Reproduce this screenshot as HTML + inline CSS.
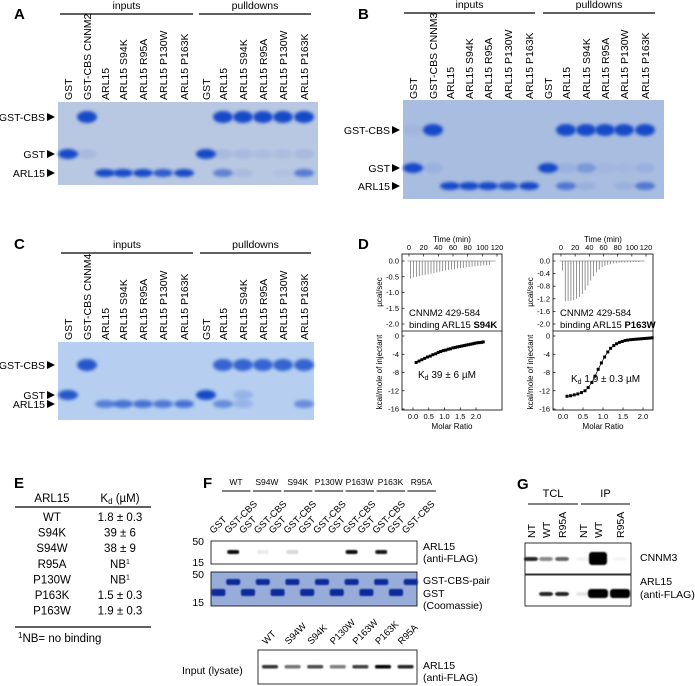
<!DOCTYPE html>
<html><head><meta charset="utf-8">
<style>
html,body{margin:0;padding:0;background:#fff;}
svg{display:block;font-family:"Liberation Sans",Arial,sans-serif;}
</style></head>
<body>
<svg id="fig" width="695" height="686" viewBox="0 0 695 686" xmlns="http://www.w3.org/2000/svg">
<defs>
<filter id="blur" x="-50%" y="-50%" width="200%" height="200%"><feGaussianBlur stdDeviation="1.6"/></filter>
<filter id="blur2" x="-50%" y="-50%" width="200%" height="200%"><feGaussianBlur stdDeviation="0.9"/></filter>
</defs>
<g font-weight="bold" font-size="15" fill="#000">
<text x="14" y="19">A</text>
<text x="358" y="19">B</text>
<text x="14" y="249">C</text>
<text x="358" y="249">D</text>
<text x="14" y="488">E</text>
<text x="203" y="488">F</text>
<text x="517" y="489">G</text>
</g>
<g id="layer"></g>

<g font-size="11.5" text-anchor="middle">
<text x="52" y="502">ARL15</text>
<text x="120" y="502">K<tspan font-size="8" dy="2">d</tspan><tspan dy="-2"> (µM)</tspan></text>
<line x1="15" y1="507" x2="151" y2="507" stroke="#000" stroke-width="1.2"/>
<line x1="15" y1="627" x2="151" y2="627" stroke="#000" stroke-width="1.2"/>
<text x="18" y="642" text-anchor="start"><tspan font-size="8" dy="-4">1</tspan><tspan dy="4">NB= no binding</tspan></text>
<g id="tableRows"></g>
</g>

<g font-size="10.5">
<text x="423" y="550">ARL15</text>
<text x="423" y="562">(anti-FLAG)</text>
<text x="423" y="584">GST-CBS-pair</text>
<text x="423" y="597">GST</text>
<text x="423" y="609">(Coomassie)</text>
<text x="182" y="674">Input (lysate)</text>
<text x="423" y="669">ARL15</text>
<text x="423" y="681">(anti-FLAG)</text>
<text x="640" y="561">CNNM3</text>
<text x="640" y="585">ARL15</text>
<text x="640" y="598">(anti-FLAG)</text>
</g>
<g font-size="10.5" text-anchor="end">
<text x="204" y="545">50</text>
<text x="204" y="566">15</text>
<text x="204" y="578">50</text>
<text x="204" y="606">15</text>
</g>
</svg>
<script>
const NS='http://www.w3.org/2000/svg';
const layer=document.getElementById('layer');
function mk(tag,attrs,parent){const e=document.createElementNS(NS,tag);for(const k in attrs)e.setAttribute(k,attrs[k]);(parent||layer).appendChild(e);return e;}
function txt(x,y,s,attrs,parent){const e=mk('text',Object.assign({x:x,y:y},attrs||{}),parent);e.textContent=s;return e;}

const gelLanes=['GST','GST-CBS CNNM','ARL15','ARL15 S94K','ARL15 R95A','ARL15 P130W','ARL15 P163K','GST','ARL15','ARL15 S94K','ARL15 R95A','ARL15 P130W','ARL15 P163K'];
const gelA=[[0,1,0],[1,0.1,0],[0,0,1],[0,0,1],[0,0,1],[0,0,0.85],[0,0,1],[0,1,0],[1,0.1,0.55],[1,0.1,0.1],[1,0.08,0],[1,0.08,0.05],[1,0.1,0.6]];
const gelB=[[0.05,1,0],[1,0.1,0],[0,0,1],[0,0,1],[0,0,1],[0,0,0.9],[0,0,1],[0,1,0],[1,0.1,0.6],[1,0.3,0.1],[1,0.05,0],[1,0.05,0.1],[1,0.1,0.6]];
const gelC=[[0,0.9,0],[0.9,0,0],[0,0,0.6],[0,0,0.7],[0,0,0.7],[0,0,0.65],[0,0,0.7],[0,1,0],[0.8,0,0.5],[0.8,0.2,0.2],[0.8,0,0],[0.8,0,0],[0.8,0,0.5]];
const gels=[
 {name:'a',cnnm:'2',x0:58,x1:318,y0:102,y1:185,lanes:[68,87,105,123,143,163,184,206,223,243,263,283,304],bands:[117,154,173],data:gelA,bg:'#b9c8e2',top:14,ins:[60,193],pul:[199,311],lbl:100},
 {name:'b',cnnm:'3',x0:403,x1:664,y0:100,y1:199,lanes:[413,433,450,469,488,508,529,548,566,586,605,624,645],bands:[130,168,186],data:gelB,bg:'#a9bde0',top:13,ins:[404,535],pul:[543,655],lbl:99},
 {name:'c',cnnm:'4',x0:58,x1:314,y0:342,y1:420,lanes:[68,87,105,123,143,163,184,206,223,243,263,283,304],bands:[365,395,404],data:gelC,bg:'#b6cff0',top:253,ins:[61,193],pul:[200,311],lbl:340}
];
gels.forEach(g=>{
  const grp=mk('g',{});
  
  
  const r=mk('rect',{x:g.x0,y:g.y0,width:g.x1-g.x0,height:g.y1-g.y0,fill:g.bg},grp);
  
  
  const l1=mk('line',{x1:g.ins[0],x2:g.ins[1],y1:g.top,y2:g.top,stroke:'#000','stroke-width':1.2},grp);
  
  
  const l2=mk('line',{x1:g.pul[0],x2:g.pul[1],y1:g.top,y2:g.top,stroke:'#000','stroke-width':1.2},grp);
  
  
  const t1=txt((g.ins[0]+g.ins[1])/2,g.top-5,'inputs',{'font-size':10.5,'text-anchor':'middle'},grp);
  
  
  const t2=txt((g.pul[0]+g.pul[1])/2,g.top-5,'pulldowns',{'font-size':10.5,'text-anchor':'middle'},grp);
  
  
  ['GST-CBS','GST','ARL15'].forEach((s,i)=>{
    const t=txt(g.x0-13,g.bands[i]+4,s,{'font-size':10.5,'text-anchor':'end'},grp);
    
    
    const p=mk('path',{d:`M${g.x0-11} ${g.bands[i]-4}L${g.x0-3} ${g.bands[i]}L${g.x0-11} ${g.bands[i]+4}Z`,fill:'#000'},grp);
    
    
  });
  gelLanes.forEach((s,i)=>{
    const lab=s==='GST-CBS CNNM'?s+g.cnnm:s;
    const x=g.lanes[i]+4;
    const t=txt(x,g.lbl,lab,{'font-size':10.5,transform:`rotate(-90 ${x} ${g.lbl})`},grp);
    
    
    g.data[i].forEach((v,k)=>{
      if(v<=0)return;
      const h=k===0?12:(k===1?10:8);
      const b=mk('ellipse',{cx:g.lanes[i],cy:g.bands[k],rx:10,ry:h/2,fill:'#1848c8',opacity:Math.min(1,v),filter:'url(#blur)'},grp);
      
      
    });
  });
});

const peaksS94K=[-0.55,-0.52,-0.5,-0.48,-0.46,-0.44,-0.42,-0.4,-0.38,-0.36,-0.34,-0.32,-0.3,-0.29,-0.27,-0.26,-0.24,-0.23,-0.22,-0.2,-0.19,-0.18,-0.17,-0.16,-0.15,-0.14,-0.13,-0.12];
const peaksP163W=[-0.3,-1.28,-1.27,-1.26,-1.24,-1.2,-1.14,-1.05,-0.93,-0.78,-0.62,-0.48,-0.36,-0.27,-0.2,-0.15,-0.12,-0.1,-0.08,-0.07,-0.06,-0.05,-0.05,-0.04,-0.04,-0.03,-0.03,-0.03];
const molar=[0.10,0.19,0.28,0.37,0.46,0.55,0.63,0.72,0.80,0.88,0.96,1.04,1.12,1.19,1.27,1.34,1.41,1.48,1.55,1.62,1.69,1.76,1.83,1.90,1.96,2.03,2.10,2.17,2.23];
const heatS94K=[-5.8,-5.5,-5.2,-4.9,-4.6,-4.4,-4.1,-3.9,-3.6,-3.4,-3.2,-3.1,-2.9,-2.8,-2.6,-2.5,-2.4,-2.3,-2.2,-2.1,-2.0,-1.9,-1.8,-1.7,-1.6,-1.5,-1.45,-1.4,-1.3];
const heatP163W=[-13.2,-13.1,-12.9,-12.7,-12.4,-12.0,-11.3,-10.2,-8.8,-7.3,-5.9,-4.6,-3.5,-2.7,-2.1,-1.7,-1.4,-1.2,-1.0,-0.9,-0.8,-0.75,-0.7,-0.65,-0.6,-0.55,-0.5,-0.45,-0.4];
const timeTicks=[0,20,40,60,80,100,120];
const ratioTicks=[0,0.5,1.0,1.5,2.0];
const upTicksL=[0,-0.5,-1.0,-1.5,-2.0];
const upTicksR=[0,-0.4,-0.8,-1.2,-1.6,-2.0];
const lowTicks=[0,-4,-8,-12,-16];
const itcs=[
 {name:'s94k',bx:402,peaks:peaksS94K,heat:heatS94K,up:upTicksL,mut:'S94K',kd:'39 ± 6 µM',kdx:418,kdy:378,t0:409,t1:497,r0:413,r1:476},
 {name:'p163w',bx:553,peaks:peaksP163W,heat:heatP163W,up:upTicksR,mut:'P163W',kd:'1.9 ± 0.3 µM',kdx:571,kdy:382,t0:561,t1:646,r0:563,r1:643}
];
itcs.forEach(p=>{
  const grp=mk('g',{'font-size':7.5});
  
  
  const W=100, top=254, mid=331, bot=410;
  const bx=mk('rect',{x:p.bx,y:top,width:W,height:bot-top,fill:'none',stroke:'#000','stroke-width':0.8},grp);
  
  
  const dv=mk('line',{x1:p.bx,x2:p.bx+W,y1:mid,y2:mid,stroke:'#000','stroke-width':0.8},grp);
  
  
  const tX=v=>p.t0+(p.t1-p.t0)*v/120;
  const uY=v=>261+(324-261)*(v/-2);
  const rX=v=>p.r0+(p.r1-p.r0)*v/2;
  const hY=v=>336+(409-336)*(v/-16);
  timeTicks.forEach(v=>{
    const t=txt(tX(v),250,String(v),{'text-anchor':'middle'},grp);
    
    
    const l=mk('line',{x1:tX(v),x2:tX(v),y1:top,y2:top+2.5,stroke:'#000','stroke-width':0.7},grp);
    
    
  });
  const tt=txt(p.bx+W/2,242,'Time (min)',{'text-anchor':'middle','font-size':8},grp);
  
  
  p.up.forEach(v=>{
    const t=txt(p.bx-3,uY(v)+2.5,v.toFixed(1),{'text-anchor':'end'},grp);
    
    
    const l=mk('line',{x1:p.bx,x2:p.bx+2.5,y1:uY(v),y2:uY(v),stroke:'#000','stroke-width':0.7},grp);
    
    
  });
  lowTicks.forEach(v=>{
    const t=txt(p.bx-3,hY(v)+2.5,String(v),{'text-anchor':'end'},grp);
    
    
    const l=mk('line',{x1:p.bx,x2:p.bx+2.5,y1:hY(v),y2:hY(v),stroke:'#000','stroke-width':0.7},grp);
    
    
  });
  ratioTicks.forEach(v=>{
    const t=txt(rX(v),419,v.toFixed(1),{'text-anchor':'middle'},grp);
    
    
    const l=mk('line',{x1:rX(v),x2:rX(v),y1:bot,y2:bot-2.5,stroke:'#000','stroke-width':0.7},grp);
    
    
  });
  const xt=txt(p.bx+W/2,429,'Molar Ratio',{'text-anchor':'middle','font-size':8},grp);
  
  
  const y1=txt(p.bx-20,292,'µcal/sec',{'text-anchor':'middle','font-size':8,transform:`rotate(-90 ${p.bx-20} 292)`},grp);
  
  
  const y2=txt(p.bx-20,372,'kcal/mole of injectant',{'text-anchor':'middle','font-size':8,transform:`rotate(-90 ${p.bx-20} 372)`},grp);
  
  
  const base=mk('line',{x1:tX(-2),x2:tX(118),y1:uY(0),y2:uY(0),stroke:'#555','stroke-width':0.6},grp);
  
  
  p.peaks.forEach((v,i)=>{
    const t=2+i*4;
    const l=mk('line',{x1:tX(t),x2:tX(t),y1:uY(0),y2:uY(v),stroke:'#666','stroke-width':0.7},grp);
    
    
  });
  let d='';
  molar.forEach((m,i)=>{d+=(i?'L':'M')+rX(m)+' '+hY(p.heat[i]);});
  const ln=mk('path',{d:d,fill:'none',stroke:'#000','stroke-width':0.7},grp);
  
  
  molar.forEach((m,i)=>{
    const s=mk('rect',{x:rX(m)-1.5,y:hY(p.heat[i])-1.5,width:3,height:3,fill:'#000'},grp);
    
    
  });
  const a=txt(p.bx+7,316,'CNNM2 429-584',{'font-size':9.5},grp);
  
  
  const b=txt(p.bx+7,328,'binding ARL15 ',{'font-size':9.5},grp);
  
  
  const bs=mk('tspan',{'font-weight':'bold'},b); bs.textContent=p.mut;
  const k=txt(p.kdx,p.kdy,'K',{'font-size':10},grp);
  
  
  const ks=mk('tspan',{'font-size':7,dy:2},k); ks.textContent='d';
  const kr=mk('tspan',{dy:-2},k); kr.textContent=' '+p.kd;
});

const rowsMut=['WT','S94K','S94W','R95A','P130W','P163K','P163W'];
const rowsKd=['1.8 ± 0.3','39 ± 6','38 ± 9','NB','NB','1.5 ± 0.3','1.9 ± 0.3'];
const tr=document.getElementById('tableRows');
rowsMut.forEach((m,i)=>{
  const y=521+i*15.6;
  const a=txt(52,y,m,{},tr);
  
  
  const b=txt(120,y,rowsKd[i],{},tr);
  
  
  if(rowsKd[i]==='NB'){const s=mk('tspan',{'font-size':7,dy:-4},b);s.textContent='1';}
});

const fGroups=['WT','S94W','S94K','P130W','P163W','P163K','R95A'];
const fFlag=[0.95,0.08,0.15,0,0.95,0.9,0];
const fLysate=[0.8,0.55,0.7,0.5,0.75,1.0,0.85];
const fx0=211, fw=14.8;
const fg=mk('g',{});


const b1=mk('rect',{x:fx0,y:541,width:206,height:23,fill:'#fff',stroke:'#000','stroke-width':0.8},fg);


const b2=mk('rect',{x:fx0,y:572,width:206,height:34,fill:'#98acd9',stroke:'#000','stroke-width':0.8},fg);


fGroups.forEach((gname,i)=>{
  const gx=221+i*30.9;
  const l=mk('line',{x1:gx+1,x2:gx+29.5,y1:491,y2:491,stroke:'#000','stroke-width':1},fg);
  
  
  const t=txt(gx+15,485,gname,{'font-size':8.5,'text-anchor':'middle'},fg);
  
  
  ['GST','GST-CBS'].forEach((s,j)=>{
    const cx=fx0+fw*(2*i+j)+fw/2;
    const lt=txt(cx-5,534,s,{'font-size':9.5,transform:`rotate(-45 ${cx-5} 534)`},fg);
    
    
    const cb=mk('rect',{x:cx-7,y:j?579:589,width:14,height:j?6:7,rx:2,fill:'#0b2a9a',filter:'url(#blur2)'},fg);
    
    
    if(j===1&&fFlag[i]>0){
      const fb=mk('rect',{x:cx-6,y:550,width:12,height:4,rx:2,fill:'#000',opacity:fFlag[i],filter:'url(#blur2)'},fg);
      
      
    }
  });
});
const lysG=mk('g',{});


const lb=mk('rect',{x:258,y:650,width:159,height:34,fill:'#fff',stroke:'#000','stroke-width':0.8},lysG);


fGroups.forEach((s,i)=>{
  const cx=270+i*22.6;
  const t=txt(cx-4,645,s,{'font-size':9.5,transform:`rotate(-45 ${cx-4} 645)`},lysG);
  
  
  const b=mk('rect',{x:cx-8,y:665,width:16,height:3.5,rx:1.5,fill:'#000',opacity:fLysate[i],filter:'url(#blur2)'},lysG);
  
  
});

const gLanes=['NT','WT','R95A','NT','WT','R95A'];
const gCnnm3=[0.85,0.45,0.6,0.05,1.0,0.04];
const gArl15=[0.0,0.85,0.85,0.1,1.0,1.0];
const gX=[531,546,562,583,598,620];
const gg=mk('g',{});


const gb1=mk('rect',{x:525,y:543,width:106,height:31,fill:'#fff',stroke:'#000','stroke-width':0.8},gg);


const gb2=mk('rect',{x:525,y:575,width:106,height:31,fill:'#fff',stroke:'#000','stroke-width':0.8},gg);


[['TCL',528,578],['IP',581,630]].forEach(a=>{
  const l=mk('line',{x1:a[1],x2:a[2],y1:504,y2:504,stroke:'#000','stroke-width':1},gg);
  
  
  const t=txt((a[1]+a[2])/2,497,a[0],{'font-size':11,'text-anchor':'middle'},gg);
  
  
});
gLanes.forEach((s,i)=>{
  const x=gX[i]+4;
  const t=txt(x,538,s,{'font-size':10.5,transform:`rotate(-90 ${x} 538)`},gg);
  
  
  const big=i===4;
  const c=mk('rect',{x:gX[i]-(big?9:7),y:big?552:557,width:big?18:14,height:big?13:4,rx:3,fill:'#000',opacity:gCnnm3[i],filter:'url(#blur2)'},gg);
  
  
  const bigA=i>=4;
  const a2=mk('rect',{x:gX[i]-(bigA?10:7),y:bigA?589:592,width:bigA?20:14,height:bigA?9:4,rx:3,fill:'#000',opacity:gArl15[i],filter:'url(#blur2)'},gg);
  
  
});
</script>
</body></html>
